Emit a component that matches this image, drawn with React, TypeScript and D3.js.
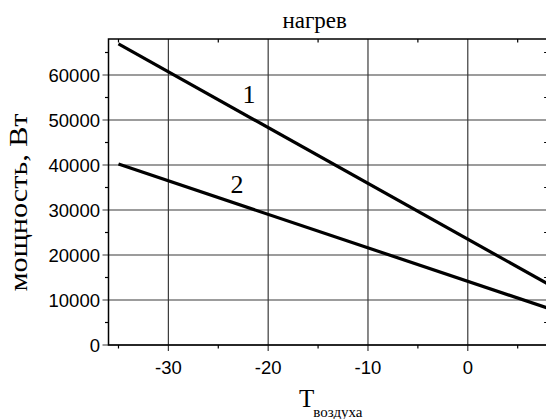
import React from "react";
import * as d3 from "d3";

const W = 546;
const H = 419;

// data
const temps = [-35, 8];
const series1 = [66900, 13600];
const series2 = [40200, 8200];
const xMajorTicks = [-30, -20, -10, 0];
const xMinorTicks = [-35, -25, -15, -5, 5];
const yMajorTicks = [0, 10000, 20000, 30000, 40000, 50000, 60000];
const yMinorTicks = [5000, 15000, 25000, 35000, 45000, 55000, 65000];
const titleText = "нагрев";
const yLabelText = "мощность, Вт";
const xLabelMain = "T";
const xLabelSub = "воздуха";
const curveLabels = ["1", "2"];

const left = 108.5;
const top = 39;
const bottom = 345;
const x = d3.scaleLinear().domain([-36, 8]).range([left, left + 44 * 9.98]);
const y = d3.scaleLinear().domain([0, 68000]).range([bottom, top]);

const line = d3
  .line<[number, number]>()
  .x((d) => x(d[0]))
  .y((d) => y(d[1]));

export default function App() {
  const x0 = x.range()[0];
  const x1 = x.range()[1];
  const pts1 = temps.map((t, i) => [t, series1[i]] as [number, number]);
  const pts2 = temps.map((t, i) => [t, series2[i]] as [number, number]);
  return (
    <svg
      width={W}
      height={H}
      style={{ position: "absolute", left: 0, top: 0, background: "#fff" }}
    >
      <defs>
        <clipPath id="plot">
          <rect x={x0} y={top} width={x1 - x0} height={bottom - top} />
        </clipPath>
      </defs>
      {/* grid */}
      <g stroke="#3a3a3a" strokeWidth={1.2}>
        {xMajorTicks.map((t) => (
          <line key={"gx" + t} x1={x(t)} x2={x(t)} y1={top} y2={bottom + 6} />
        ))}
        {yMajorTicks.map((t) => (
          <line key={"gy" + t} x1={x0 - 6} x2={x1} y1={y(t)} y2={y(t)} />
        ))}
      </g>
      {/* minor ticks */}
      <g stroke="#000" strokeWidth={1.2}>
        {xMinorTicks.map((t) => (
          <React.Fragment key={"mx" + t}>
            <line x1={x(t)} x2={x(t)} y1={bottom} y2={bottom + 3.5} />
            <line x1={x(t)} x2={x(t)} y1={top} y2={top + 3.5} />
          </React.Fragment>
        ))}
        {yMinorTicks.map((t) => (
          <React.Fragment key={"my" + t}>
            <line x1={x0 - 3.5} x2={x0} y1={y(t)} y2={y(t)} />
            <line x1={x1 - 3.5} x2={x1} y1={y(t)} y2={y(t)} />
          </React.Fragment>
        ))}
      </g>
      {/* frame */}
      <rect
        x={x0}
        y={top}
        width={x1 - x0}
        height={bottom - top}
        fill="none"
        stroke="#000"
        strokeWidth={1.5}
      />
      {/* lines */}
      <g clipPath="url(#plot)" fill="none" stroke="#000" strokeWidth={3.2}>
        <path d={line(pts1) || ""} />
        <path d={line(pts2) || ""} />
      </g>
      {/* tick labels */}
      <g fontFamily="'Liberation Sans', Arial, sans-serif" fontSize={18.5} fill="#000">
        {yMajorTicks.map((t) => (
          <text key={"ly" + t} x={x0 - 8.5} y={y(t) + 6.6} textAnchor="end">
            {t}
          </text>
        ))}
        {xMajorTicks.map((t) => (
          <text key={"lx" + t} x={x(t)} y={373.5} textAnchor="middle">
            {t}
          </text>
        ))}
      </g>
      {/* texts */}
      <g fontFamily="'Liberation Serif', 'Times New Roman', serif" fill="#000">
        <text x={314.7} y={28.3} fontSize={23} textAnchor="middle">
          {titleText}
        </text>
        <text
          transform="translate(27,202.5) rotate(-90)"
          fontSize={26}
          textAnchor="middle"
          textLength={178}
          lengthAdjust="spacingAndGlyphs"
        >
          {yLabelText}
        </text>
        <text x={299} y={406.7} fontSize={25}>
          {xLabelMain}
          <tspan fontSize={15} dy={10.3} dx={-1}>
            {xLabelSub}
          </tspan>
        </text>
        <text x={249} y={103.3} fontSize={26} textAnchor="middle">
          {curveLabels[0]}
        </text>
        <text x={237} y={192.7} fontSize={26} textAnchor="middle">
          {curveLabels[1]}
        </text>
      </g>
    </svg>
  );
}
